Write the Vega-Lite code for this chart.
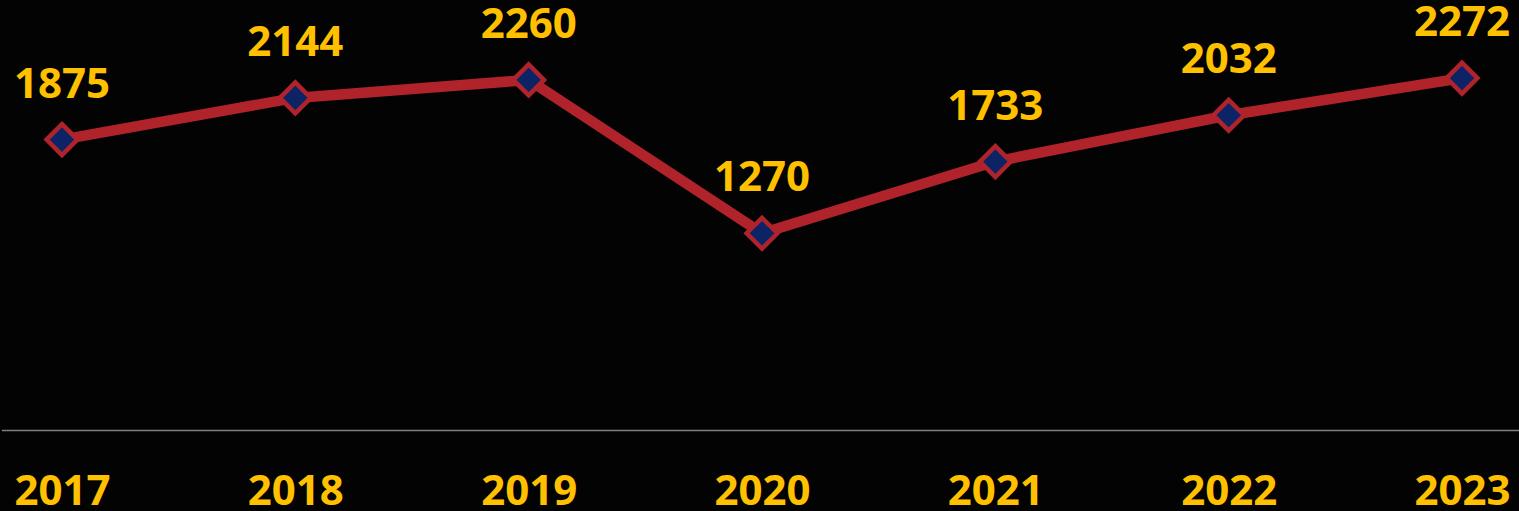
{
  "$schema": "https://vega.github.io/schema/vega-lite/v6.json",
  "width": 1519,
  "height": 430,
  "autosize": {"type": "none"},
  "padding": {"top": 0, "left": 0, "right": 0, "bottom": 81},
  "background": "#030303",
  "config": {"view": {"stroke": null}},
  "data": {"values": [
    {"year": "2017", "value": 1875},
    {"year": "2018", "value": 2144},
    {"year": "2019", "value": 2260},
    {"year": "2020", "value": 1270},
    {"year": "2021", "value": 1733},
    {"year": "2022", "value": 2032},
    {"year": "2023", "value": 2272}
  ]},
  "encoding": {
    "x": {"field": "year", "type": "ordinal", "scale": {"type": "point", "range": [1.33, 1522.67], "padding": 0.26},
      "axis": {"title": null, "ticks": false, "grid": false, "domainColor": "#7f7f7f", "domainWidth": 1.5,
        "labelFont": "Open Sans", "labelFontWeight": "bold", "labelFontSize": 42, "labelColor": "#FFC000",
        "labelBaseline": "alphabetic", "labelPadding": 74, "labelAngle": 0}},
    "y": {"field": "value", "type": "quantitative", "scale": {"domain": [0, 2776], "nice": false, "zero": true}, "axis": null}
  },
  "layer": [
    {"mark": {"type": "line", "color": "#B0232A", "strokeWidth": 10.5}},
    {"mark": {"type": "point", "shape": "diamond", "size": 950, "filled": true, "fill": "#0C2466", "stroke": "#B0232A", "strokeWidth": 4.5, "opacity": 1}},
    {"mark": {"type": "text", "dy": -42, "baseline": "alphabetic", "font": "Open Sans", "fontWeight": "bold", "fontSize": 42, "color": "#FFC000"},
     "encoding": {"text": {"field": "value", "type": "quantitative", "format": "d"}}}
  ]
}
